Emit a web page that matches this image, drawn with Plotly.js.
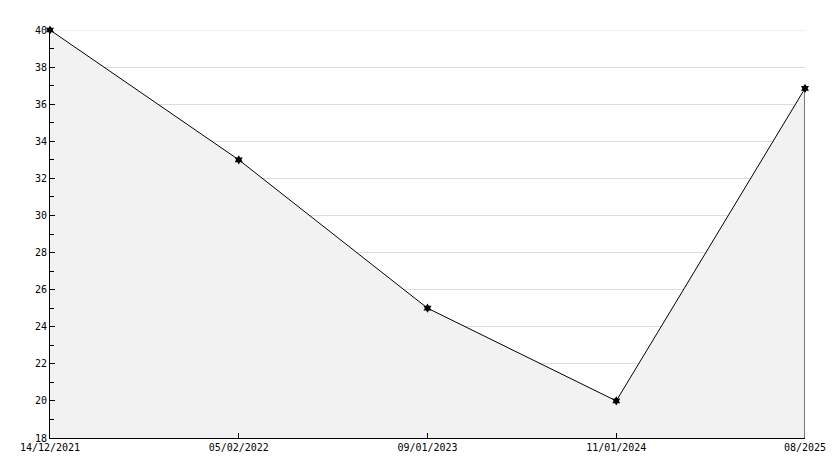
<!DOCTYPE html>
<html>
<head>
<meta charset="utf-8">
<script src="https://cdn.plot.ly/plotly-3.0.1.min.js"></script>
<style>html,body{margin:0;padding:0;background:#fff;}#chart{width:834px;height:468px;}</style>
</head>
<body>
<div id="chart"></div>
<script>
const dates = ["14/12/2021", "05/02/2022", "09/01/2023", "11/01/2024", "08/2025"];
const values = [40, 33, 25, 20, 36.85];
const yMin = 18, yMax = 40;

const trace = {
  x: dates,
  y: values,
  type: 'scatter',
  mode: 'lines+markers',
  fill: 'tozeroy',
  fillcolor: '#f2f2f2',
  line: {color: '#000', width: 1},
  marker: {symbol: 'hexagram', size: 7, color: '#000', line: {width: 0}},
  cliponaxis: false,
  hoverinfo: 'x+y'
};

// closing edge of the filled area at the last point
const edge = {
  x: [dates[dates.length - 1], dates[dates.length - 1]],
  y: [values[values.length - 1], yMin],
  type: 'scatter',
  mode: 'lines',
  line: {color: '#000', width: 1},
  hoverinfo: 'skip'
};

const layout = {
  width: 834, height: 468,
  margin: {l: 50, r: 29, t: 30, b: 30},
  paper_bgcolor: '#fff', plot_bgcolor: '#fff',
  showlegend: false,
  font: {family: 'DejaVu Sans Mono, monospace', size: 10, color: '#000'},
  xaxis: {
    type: 'category', range: [0, 4],
    showgrid: false, zeroline: false,
    showline: true, linecolor: '#000', linewidth: 1,
    ticks: 'inside', ticklen: 5, tickcolor: '#000',
    tickfont: {family: 'DejaVu Sans Mono, monospace', size: 10, color: '#000'}
  },
  yaxis: {
    range: [yMin, yMax], dtick: 2, tick0: 18,
    showgrid: true, gridcolor: '#dddddd', gridwidth: 1,
    zeroline: false,
    showline: true, linecolor: '#000', linewidth: 1,
    ticks: 'inside', ticklen: 5, tickcolor: '#000',
    minor: {dtick: 1, ticks: 'inside', ticklen: 4, tickcolor: '#000', showgrid: false},
    tickfont: {family: 'DejaVu Sans Mono, monospace', size: 10, color: '#000'}
  },
  shapes: [{
    type: 'line', xref: 'paper', x0: 0, x1: 1, yref: 'y', y0: yMax, y1: yMax,
    line: {color: '#dddddd', width: 1}, layer: 'below'
  }]
};

Plotly.newPlot('chart', [trace, edge], layout, {displayModeBar: false, staticPlot: true});
</script>
</body>
</html>
